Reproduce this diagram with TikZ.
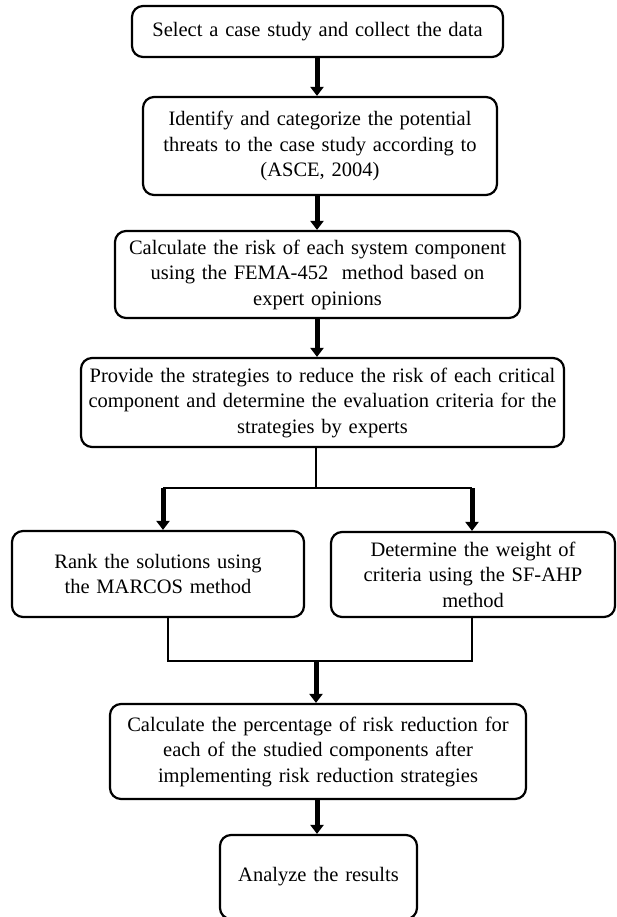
\documentclass[tikz,border=0pt]{standalone}
\usepackage{fontspec}
\setmainfont[WordSpace=0.8]{Liberation Serif}
\usetikzlibrary{arrows.meta}
\begin{document}
\begin{tikzpicture}[x=1pt,y=-1pt,
  box/.style={draw=black, line width=2.2pt, rounded corners=11pt, align=center,
    inner sep=0pt, font=\fontsize{20.5}{25.5}\selectfont, fill=white},
  thin/.style={draw=black, line width=2pt},
  bigarrow/.style={draw=black, line width=5pt, -{Triangle[width=13pt,length=9pt]}},
]
\useasboundingbox (0,0) rectangle (617,917);
\fill[white] (0,0) rectangle (617,917);

\node[box, minimum width=371pt, minimum height=51pt, text width=365pt] (b1) at (317.5,31.5)
  {Select a case study and collect the data};
\node[box, minimum width=354pt, minimum height=98pt, text width=350pt] (b2) at (320,146)
  {Identify and categorize the potential\\threats to the case study according to\\(ASCE, 2004)};
\node[box, minimum width=405pt, minimum height=87pt, text width=400pt] (b3) at (317.5,274.5)
  {Calculate the risk of each system component\\using the FEMA-452 \ method based on\\expert opinions};
\node[box, minimum width=483pt, minimum height=89pt, text width=478pt] (b4) at (322.5,402.5)
  {Provide the strategies to reduce the risk of each critical\\component and determine the evaluation criteria for the\\strategies by experts};
\node[box, minimum width=292pt, minimum height=86pt, text width=285pt] (b5) at (158,574)
  {Rank the solutions using\\the MARCOS method};
\node[box, minimum width=284pt, minimum height=85pt, text width=278pt] (b6) at (473,574.5)
  {Determine the weight of\\criteria using the SF-AHP\\method};
\node[box, minimum width=416pt, minimum height=95pt, text width=410pt] (b7) at (318,751.5)
  {Calculate the percentage of risk reduction for\\each of the studied components after\\implementing risk reduction strategies};
\node[box, minimum width=197pt, minimum height=84pt, text width=190pt] (b8) at (318.5,877)
  {Analyze the results};

\coordinate (c12) at (317,0);
\coordinate (s1) at (316,488);
\coordinate (la) at (163,488);
\coordinate (ra) at (472,488);
\coordinate (lb) at (168,661);
\coordinate (rb) at (472,661);
\coordinate (mb) at (316,661);

\draw[bigarrow] (c12 |- b1.south) -- (c12 |- b2.north);
\draw[bigarrow] (c12 |- b2.south) -- (c12 |- b3.north);
\draw[bigarrow] (c12 |- b3.south) -- (c12 |- b4.north);
\draw[thin] (s1 |- b4.south) -- (s1);
\draw[thin] (la) -- (ra);
\draw[bigarrow] (la) -- (la |- b5.north);
\draw[bigarrow] (ra) -- (ra |- b6.north);
\draw[thin] (lb |- b5.south) -- (lb) -- (rb) -- (rb |- b6.south);
\draw[bigarrow] (mb) -- (mb |- b7.north);
\draw[bigarrow] (c12 |- b7.south) -- (c12 |- b8.north);
\end{tikzpicture}
\end{document}
